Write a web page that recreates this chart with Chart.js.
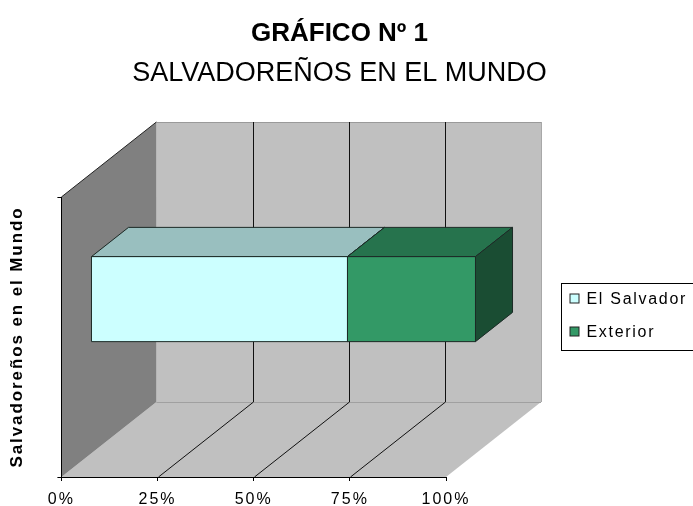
<!DOCTYPE html>
<html>
<head>
<meta charset="utf-8">
<script src="https://cdn.jsdelivr.net/npm/chart.js@4.4.0/dist/chart.umd.min.js"></script>
<style>
  html, body { margin: 0; padding: 0; background: #fff; }
  canvas { display: block; }
</style>
</head>
<body>
<canvas id="grafico" width="693" height="506"></canvas>
<script>
// Datos del gráfico
const categorias = ['Salvadoreños en el Mundo'];
const series = ['El Salvador', 'Exterior'];
const elSalvador = [66.7];
const exterior = [33.3];
const ticksX = [0, 25, 50, 75, 100];

const colores = ['#CCFFFF', '#339966'];
const fuente = "'Liberation Sans', Arial, sans-serif";

// Profundidad del efecto 3D (en píxeles y fracciones de la profundidad)
const prof = { dx: 95, dy: -75, f1: 0.305, f2: 0.695, lift: 16 };

function sombra(hex, f) {
    const n = parseInt(hex.slice(1), 16);
    const r = Math.round(((n >> 16) & 255) * f);
    const g = Math.round(((n >> 8) & 255) * f);
    const b = Math.round((n & 255) * f);
    return 'rgb(' + r + ',' + g + ',' + b + ')';
}

function poligono(ctx, pts, relleno, borde) {
    ctx.beginPath();
    ctx.moveTo(pts[0][0], pts[0][1]);
    for (let i = 1; i < pts.length; i++) ctx.lineTo(pts[i][0], pts[i][1]);
    ctx.closePath();
    if (relleno) { ctx.fillStyle = relleno; ctx.fill(); }
    if (borde) { ctx.strokeStyle = borde; ctx.lineWidth = 1; ctx.stroke(); }
}

function linea(ctx, x1, y1, x2, y2, color) {
    ctx.beginPath();
    ctx.moveTo(x1, y1);
    ctx.lineTo(x2, y2);
    ctx.strokeStyle = color;
    ctx.lineWidth = 1;
    ctx.stroke();
}

// Espaciado de letras para los textos de los ejes
function espaciar(scale, metodo, valor) {
    if (scale['_esp_' + metodo]) return;
    const orig = scale[metodo];
    scale[metodo] = function () {
        const c = this.ctx;
        c.save();
        c.letterSpacing = valor;
        orig.apply(this, arguments);
        c.restore();
    };
    scale['_esp_' + metodo] = true;
}

const efecto3D = {
    id: 'efecto3D',
    beforeDraw(chart) {
        const { ctx, chartArea: a, scales: { x, y } } = chart;
        espaciar(x, 'drawLabels', '2px');
        espaciar(y, 'drawTitle', '1.9px');

        const dx = prof.dx, dy = prof.dy;
        ctx.save();
        // pared del fondo
        ctx.fillStyle = '#c0c0c0';
        ctx.fillRect(a.left + dx, a.top + dy, a.right - a.left, a.bottom - a.top);
        // piso
        poligono(ctx, [[a.left, a.bottom], [a.right, a.bottom], [a.right + dx, a.bottom + dy], [a.left + dx, a.bottom + dy]], '#c0c0c0');
        // pared izquierda
        poligono(ctx, [[a.left, a.top], [a.left + dx, a.top + dy], [a.left + dx, a.bottom + dy], [a.left, a.bottom]], '#808080');

        // bordes suaves
        linea(ctx, a.left + dx, a.top + dy + 0.5, a.right + dx, a.top + dy + 0.5, '#9a9a9a');
        linea(ctx, a.right + dx + 0.5, a.top + dy, a.right + dx + 0.5, a.bottom + dy, '#a8a8a8');
        linea(ctx, a.left + dx, a.bottom + dy + 0.5, a.right + dx, a.bottom + dy + 0.5, '#a0a0a0');
        linea(ctx, a.left, a.top, a.left + dx, a.top + dy, '#222');

        // líneas de división en pared y piso
        x.ticks.forEach(t => {
            if (t.value <= x.min || t.value >= x.max) return;
            const px = Math.round(x.getPixelForValue(t.value)) + 0.5;
            linea(ctx, px + dx, a.top + dy, px + dx, a.bottom + dy, '#111');
            linea(ctx, px, a.bottom, px + dx, a.bottom + dy, '#111');
        });
        ctx.restore();
    },
    beforeDatasetsDraw(chart) {
        const { ctx } = chart;
        const dx = prof.dx, dy = prof.dy;
        const ox1 = prof.f1 * dx, oy1 = prof.f1 * dy;
        const ox2 = prof.f2 * dx, oy2 = prof.f2 * dy;
        ctx.save();
        chart.data.datasets.forEach((ds, i) => {
            const meta = chart.getDatasetMeta(i);
            if (meta.hidden) return;
            const col = ds.backgroundColor;
            meta.data.forEach(el => {
                const p = el.getProps(['x', 'y', 'base', 'height'], true);
                const x0 = Math.round(Math.min(p.x, p.base)) + 0.5;
                const x1 = Math.round(Math.max(p.x, p.base)) + 0.5;
                const yc = p.y - prof.lift;
                const arriba = Math.round(yc - p.height / 2) + 0.5;
                const abajo = Math.round(yc + p.height / 2) + 0.5;
                const tapa = [[x0 + ox1, arriba + oy1], [x1 + ox1, arriba + oy1], [x1 + ox2, arriba + oy2], [x0 + ox2, arriba + oy2]];
                const lado = [[x1 + ox1, arriba + oy1], [x1 + ox2, arriba + oy2], [x1 + ox2, abajo + oy2], [x1 + ox1, abajo + oy1]];
                const frente = [[x0 + ox1, arriba + oy1], [x1 + ox1, arriba + oy1], [x1 + ox1, abajo + oy1], [x0 + ox1, abajo + oy1]];
                poligono(ctx, tapa, sombra(col, 0.75), '#1c2a26');
                poligono(ctx, lado, sombra(col, 0.5), '#1c2a26');
                poligono(ctx, frente, col, '#1c2a26');
            });
        });
        ctx.restore();
        return false;
    },
    afterDraw(chart) {
        const { ctx, chartArea: a } = chart;
        // leyenda
        const izq = a.right + prof.dx + 20.5;
        const sup = 283.5;
        ctx.save();
        ctx.strokeStyle = '#000';
        ctx.lineWidth = 1;
        ctx.strokeRect(izq, sup, 200, 67);
        ctx.font = '16px ' + fuente;
        ctx.textBaseline = 'middle';
        ctx.letterSpacing = '1.7px';
        chart.data.datasets.forEach((ds, i) => {
            const cy = sup + 15 + i * 33;
            ctx.fillStyle = ds.backgroundColor;
            ctx.fillRect(izq + 8.5, cy - 4.5, 9, 9);
            ctx.strokeStyle = '#222';
            ctx.strokeRect(izq + 8.5, cy - 4.5, 9, 9);
            ctx.fillStyle = '#000';
            ctx.fillText(ds.label, izq + 25, cy + 1);
        });
        ctx.restore();
    }
};

new Chart(document.getElementById('grafico'), {
    type: 'bar',
    data: {
        labels: categorias,
        datasets: [
            { label: series[0], data: elSalvador, backgroundColor: colores[0], barThickness: 85 },
            { label: series[1], data: exterior, backgroundColor: colores[1], barThickness: 85 }
        ]
    },
    options: {
        indexAxis: 'y',
        responsive: false,
        devicePixelRatio: 1,
        animation: false,
        layout: { padding: { left: 0, right: 14, top: 0, bottom: 0 } },
        scales: {
            x: {
                stacked: true,
                min: 0,
                max: 100,
                afterBuildTicks: (axis) => { axis.ticks = ticksX.map(v => ({ value: v })); },
                afterFit: (s) => { s.height = 29; },
                ticks: {
                    color: '#000',
                    font: { family: fuente, size: 16, lineHeight: 1 },
                    padding: 11,
                    maxRotation: 0,
                    callback: (v) => v + '%'
                },
                grid: { drawOnChartArea: false, drawTicks: true, tickLength: 4, color: '#000' },
                border: { color: '#000' }
            },
            y: {
                stacked: true,
                ticks: { display: false },
                grid: { drawOnChartArea: false, drawTicks: true, tickLength: 4, color: '#000' },
                border: { color: '#000' },
                title: {
                    display: true,
                    text: categorias[0],
                    color: '#000',
                    font: { family: fuente, size: 17, weight: 'bold' },
                    padding: { top: 7, bottom: 30 }
                }
            },
            // espacio a la derecha para la profundidad y la leyenda
            margen: {
                type: 'linear',
                position: 'right',
                display: true,
                ticks: { display: false },
                grid: { display: false },
                border: { display: false },
                afterFit: (s) => { s.width = 233; }
            }
        },
        plugins: {
            legend: { display: false },
            tooltip: { enabled: false },
            title: {
                display: true,
                text: 'GRÁFICO Nº 1',
                color: '#000',
                font: { family: fuente, size: 26, weight: 'bold' },
                padding: { top: 18, bottom: 0 }
            },
            subtitle: {
                display: true,
                text: 'SALVADOREÑOS EN EL MUNDO',
                color: '#000',
                font: { family: fuente, size: 27 },
                padding: { top: 8, bottom: 107.4 }
            }
        }
    },
    plugins: [efecto3D]
});
</script>
</body>
</html>
